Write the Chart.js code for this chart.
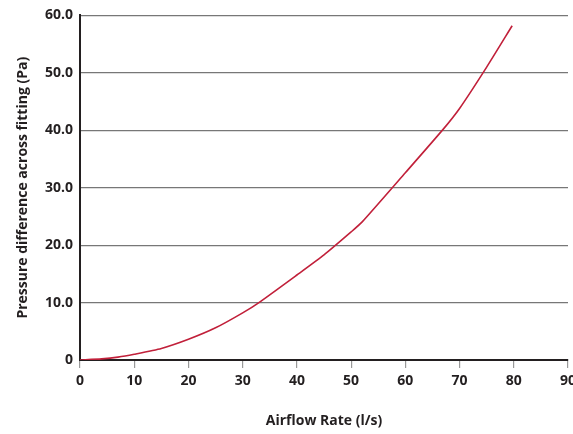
<!DOCTYPE html>
<html>
<head>
<meta charset="utf-8">
<script src="https://cdn.jsdelivr.net/npm/chart.js@4"></script>
<style>
  html, body { margin: 0; padding: 0; background: #fff; overflow: hidden; }
  #wrap { width: 573px; height: 434px; overflow: hidden; }
</style>
</head>
<body>
<div id="wrap"><canvas id="chart" width="600" height="434"></canvas></div>
<script>
// Airflow (l/s) vs pressure difference (Pa)
const airflow = [0, 4, 7, 10, 15, 20, 25, 30, 33, 40, 45, 50, 52, 60, 67, 70, 75, 79.7];
const pressure = [0, 0.2, 0.5, 1.0, 2.0, 3.6, 5.6, 8.2, 10.0, 14.8, 18.3, 22.3, 24.0, 32.6, 40.2, 43.8, 51.0, 58.2];
const xTicks = [0, 10, 20, 30, 40, 50, 60, 70, 80, 90];
const yTicks = [0, 10, 20, 30, 40, 50, 60];

const points = airflow.map((x, i) => ({ x, y: pressure[i] }));
const font = { family: "'Open Sans', Roboto, sans-serif", size: 14, weight: 'bold' };
const ink = '#231f20';

new Chart(document.getElementById('chart').getContext('2d'), {
  type: 'line',
  data: {
    datasets: [{
      data: points,
      borderColor: '#c1203a',
      borderWidth: 1.6,
      pointRadius: 0,
      tension: 0.2,
      fill: false
    }]
  },
  options: {
    responsive: false,
    animation: false,
    layout: { padding: { top: 13.5, right: 32, bottom: 0, left: 0 } },
    plugins: { legend: { display: false }, tooltip: { enabled: false } },
    scales: {
      x: {
        type: 'linear',
        min: 0, max: 90,
        afterBuildTicks: s => { s.ticks = xTicks.map(v => ({ value: v })); },
        afterFit: s => { s.height = 74; },
        grid: { drawOnChartArea: false, drawTicks: true, tickLength: 8, color: '#999', lineWidth: 1.2 },
        border: { color: ink, width: 2 },
        ticks: { font, color: ink, padding: 5, maxRotation: 0 },
        title: { display: true, text: 'Airflow Rate (l/s)', font, color: ink, padding: { top: 0, bottom: 5 } }
      },
      y: {
        min: 0, max: 60,
        afterBuildTicks: s => { s.ticks = yTicks.map(v => ({ value: v })); },
        afterFit: s => { s.width = 80; },
        grid: { drawTicks: false, color: '#777', lineWidth: 1.2 },
        border: { color: ink, width: 2 },
        ticks: { font, color: ink, padding: 7, callback: v => v === 0 ? '0' : v.toFixed(1) },
        title: { display: true, text: 'Pressure difference across fitting (Pa)', font, color: ink, padding: { top: 15, bottom: 0 } }
      }
    }
  }
});
</script>
</body>
</html>
